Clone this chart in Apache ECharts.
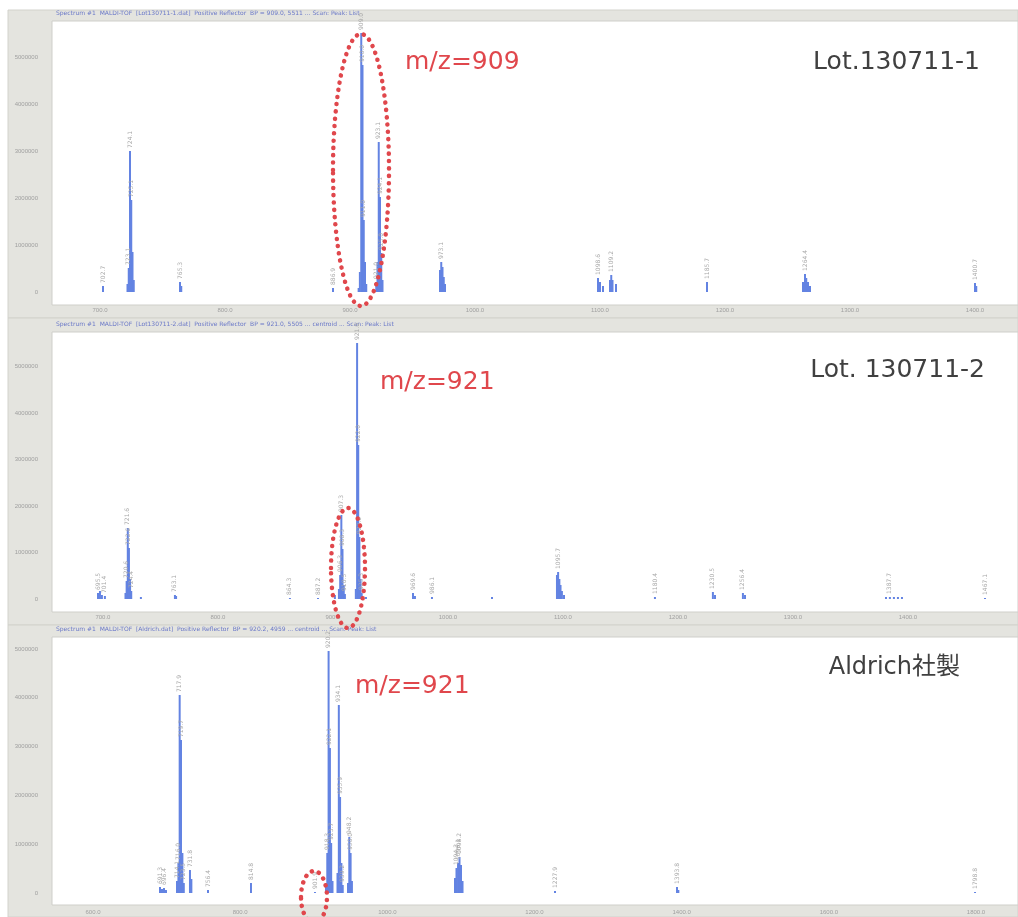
<!DOCTYPE html>
<html>
<head>
<meta charset="utf-8">
<script src="https://cdn.jsdelivr.net/npm/echarts@6/dist/echarts.min.js"></script>
<style>html,body{margin:0;padding:0;background:#fff}#c{width:1018px;height:917px}</style>
</head>
<body>
<div id="c"></div>
<script>
// ---------- Panel 1 : Lot.130711-1 ----------
const mz1 = [702.4,722.0,723.0,724.0,725.0,726.0,727.0,764.0,765.0,886.4,906.9,907.9,909.0,910.0,911.0,912.0,913.0,921.0,922.0,923.0,924.0,925.0,926.0,972.0,973.0,974.0,975.0,976.0,1098.4,1100.0,1102.4,1108.0,1109.0,1110.0,1112.8,1185.6,1262.4,1264.0,1265.0,1266.4,1268.0,1400.0,1401.0];
const int1 = [128000,170000,511000,3000000,1957000,851000,255000,213000,128000,85000,85000,426000,5511000,4830000,1532000,638000,170000,213000,638000,3191000,2021000,830000,255000,468000,638000,532000,319000,170000,298000,213000,128000,255000,362000,255000,170000,213000,213000,383000,298000,213000,128000,191000,128000];
const lab1 = ['702.7','','723.1','724.1','725.1','','','765.3','','886.9','','','909.0','910.0','911.0','','','921.0','','923.1','924.1','925.0','','','973.1','','','','1098.6','','','','1109.2','','','1185.7','','1264.4','','','','1400.7',''];

// ---------- Panel 2 : Lot. 130711-2 ----------
const mz2 = [695.7,697.4,699.1,701.7,719.6,720.6,721.6,722.6,723.6,724.6,733.0,762.6,763.6,862.6,887.0,901.7,905.2,906.3,907.3,908.3,909.4,910.4,919.9,921.0,922.0,923.0,924.0,925.0,928.7,969.6,971.3,986.1,1038.3,1094.8,1095.8,1096.9,1097.9,1099.1,1100.9,1180.0,1230.4,1232.2,1256.5,1258.3,1380.9,1384.3,1387.8,1391.3,1394.8,1467.0];
const int2 = [129000,172000,86000,65000,129000,387000,1527000,1097000,430000,172000,43000,86000,65000,22000,22000,86000,215000,516000,1806000,1075000,301000,108000,215000,5505000,3312000,1333000,430000,129000,43000,129000,65000,43000,43000,516000,581000,430000,301000,172000,86000,43000,151000,86000,129000,86000,43000,43000,43000,43000,43000,22000];
const lab2 = ['695.5','','','701.4','','720.6','721.6','722.6','','724.4','','763.1','','864.3','887.2','','','906.3','907.3','908.3','','910.5','','921.0','922.0','923.0','','925.3','','969.6','','986.1','','','1095.7','','','','','1180.4','1230.5','','1256.4','','','1387.7','','','','1467.1'];

// ---------- Panel 3 : Aldrich ----------
const mz3 = [691.1,693.8,696.5,699.2,714.2,716.1,717.8,719.6,721.5,723.4,731.8,733.7,756.3,814.7,901.7,916.7,918.4,920.2,922.0,923.7,925.5,932.3,934.1,935.8,937.6,939.4,946.6,948.3,950.1,951.9,1092.0,1094.0,1096.1,1098.1,1100.1,1102.2,1227.9,1393.7,1395.5,1798.7];
const int3 = [123000,82000,102000,61000,246000,615000,4057000,3135000,820000,205000,471000,287000,61000,205000,20000,205000,820000,4959000,2971000,1025000,246000,410000,3852000,1967000,615000,164000,205000,1148000,820000,246000,307000,512000,615000,738000,574000,246000,41000,123000,61000,20000];
const lab3 = ['691.3','','696.4','','714.1','716.0','717.9','719.7','','723.5','731.8','','756.4','814.8','901.9','','918.3','920.2','922.1','923.7','','','934.1','935.9','','939.2','','948.2','950.0','','','1094.2','1096.1','1098.2','','','1227.9','1393.8','','1798.8'];

const yTicks = [0,1000000,2000000,3000000,4000000,5000000];
const titles = [
  'Spectrum #1  MALDI-TOF  [Lot130711-1.dat]  Positive Reflector  BP = 909.0, 5511 ... Scan: Peak: List',
  'Spectrum #1  MALDI-TOF  [Lot130711-2.dat]  Positive Reflector  BP = 921.0, 5505 ... centroid ... Scan: Peak: List',
  'Spectrum #1  MALDI-TOF  [Aldrich.dat]  Positive Reflector  BP = 920.2, 4959 ... centroid ... Scan: Peak: List'
];
const lotNames = ['Lot.130711-1','Lot. 130711-2','Aldrich社製'];
const mzNotes = ['m/z=909','m/z=921','m/z=921'];

function pair(mz, it){ return mz.map((m,i)=>[m, it[i]]); }

const chart = echarts.init(document.getElementById('c'), null, {renderer:'canvas'});

const panels = [
  {top:21, h:271, white:[21,305], frame:[10,318], ymax:5766000, xmin:661.6, xmax:1434.4, split:8, margin:15},
  {top:332, h:267, white:[332,612], frame:[318,625], ymax:5742000, xmin:655.7, xmax:1495.7, split:8, margin:15},
  {top:637, h:256, white:[637,905], frame:[625,917], ymax:5246000, xmin:544.3, xmax:1857.1, split:6, margin:16}
];
const datas = [[mz1,int1,lab1],[mz2,int2,lab2],[mz3,int3,lab3]];

const grids=[], xAxes=[], yAxes=[], series=[], graphics=[];
panels.forEach((p,k)=>{
  grids.push({left:52, width:966, top:p.top, height:p.h, containLabel:false});
  xAxes.push({type:'value', gridIndex:k, min:p.xmin, max:p.xmax, splitNumber:p.split,
    axisLine:{show:false}, axisTick:{show:false}, splitLine:{show:false},
    axisLabel:{showMinLabel:false, showMaxLabel:false, fontSize:6, color:'#a0a0a0', margin:p.margin,
      formatter:v=>v.toFixed(1)}});
  yAxes.push({type:'value', gridIndex:k, min:0, max:p.ymax, interval:1000000,
    axisLine:{show:false}, axisTick:{show:false}, splitLine:{show:false},
    axisLabel:{showMaxLabel:false, fontSize:6, color:'#a0a0a0', margin:14,
      formatter:v=>yTicks.indexOf(v)>=0 ? String(v) : ''}});
  const [mz,it,lab]=datas[k];
  series.push({type:'bar', xAxisIndex:k, yAxisIndex:k, barWidth:2, barGap:'-100%',
    data:pair(mz,it), itemStyle:{color:'#6383e2'}, animation:false, silent:true,
    label:{show:true, position:'top', rotate:90, align:'left', verticalAlign:'middle', distance:3,
      fontSize:6, color:'#a8a8a8', fontFamily:'DejaVu Sans',
      formatter:q=>lab[q.dataIndex]}});
  graphics.push({type:'rect', z:-20, shape:{x:8,y:p.frame[0],width:1010,height:p.frame[1]-p.frame[0]},
    style:{fill:'#e4e4df', stroke:'#d2d2cc', lineWidth:1}});
  graphics.push({type:'rect', z:-19, shape:{x:52,y:p.white[0],width:966,height:p.white[1]-p.white[0]},
    style:{fill:'#ffffff', stroke:'#cfcfca', lineWidth:1}});
  graphics.push({type:'text', z:-18, x:56, y:p.white[0]-8,
    style:{text:titles[k], fill:'#6a78c8', font:'6px DejaVu Sans', textVerticalAlign:'middle'}});
});

const red = '#e0474c';
graphics.push(
  {type:'ellipse', z:100, shape:{cx:361, cy:170, rx:28, ry:136},
   style:{fill:'none', stroke:red, lineWidth:4.5, lineDash:[0.1,7.2], lineCap:'round'}},
  {type:'ellipse', z:100, shape:{cx:348, cy:568, rx:17, ry:60},
   style:{fill:'none', stroke:red, lineWidth:4.5, lineDash:[0.1,7.2], lineCap:'round'}},
  {type:'ellipse', z:100, shape:{cx:314, cy:897, rx:13, ry:26},
   style:{fill:'none', stroke:red, lineWidth:4.5, lineDash:[0.1,7.2], lineCap:'round'}},
  {type:'text', z:100, x:405, y:62, style:{text:mzNotes[0], fill:red, font:'25px DejaVu Sans', textVerticalAlign:'middle'}},
  {type:'text', z:100, x:380, y:382, style:{text:mzNotes[1], fill:red, font:'25px DejaVu Sans', textVerticalAlign:'middle'}},
  {type:'text', z:100, x:355, y:686, style:{text:mzNotes[2], fill:red, font:'25px DejaVu Sans', textVerticalAlign:'middle'}},
  {type:'text', z:100, x:980, y:62, style:{text:lotNames[0], fill:'#404040', font:'25px DejaVu Sans', textAlign:'right', textVerticalAlign:'middle'}},
  {type:'text', z:100, x:985, y:370, style:{text:lotNames[1], fill:'#404040', font:'25px DejaVu Sans', textAlign:'right', textVerticalAlign:'middle'}},
  {type:'text', z:100, x:960, y:668, style:{text:lotNames[2], fill:'#404040', font:'24px DejaVu Sans, Noto Sans CJK JP', textAlign:'right', textVerticalAlign:'middle'}}
);

chart.setOption({
  animation:false,
  backgroundColor:'#ffffff',
  grid:grids, xAxis:xAxes, yAxis:yAxes, series:series,
  graphic:{elements:graphics}
});
</script>
</body>
</html>
